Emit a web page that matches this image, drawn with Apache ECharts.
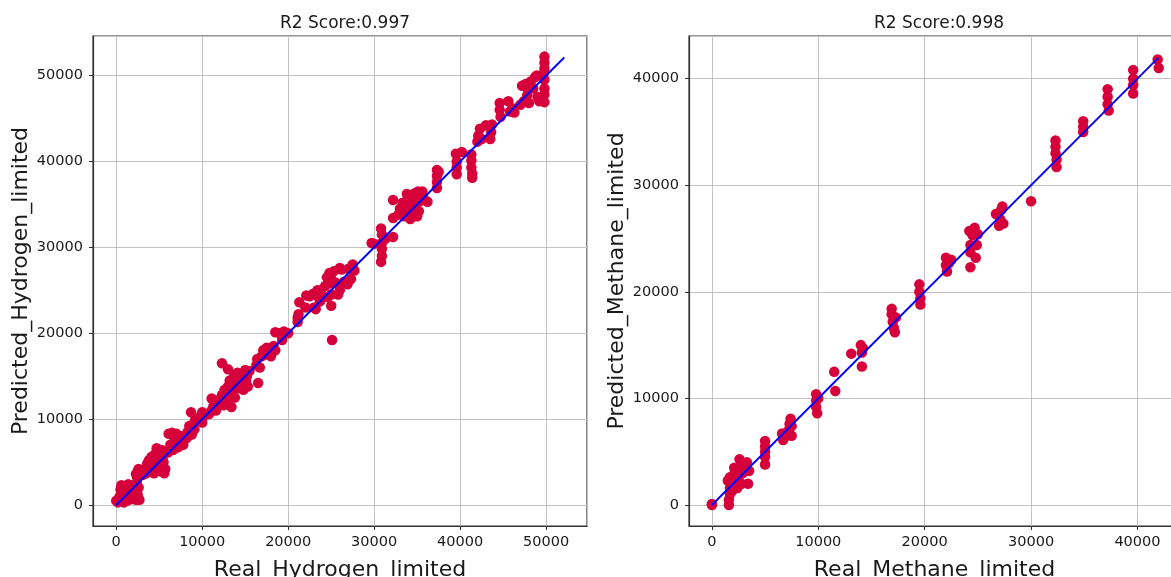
<!DOCTYPE html>
<html>
<head>
<meta charset="utf-8">
<script src="https://cdn.jsdelivr.net/npm/echarts@6/dist/echarts.min.js"></script>
<style>
html,body{margin:0;padding:0;background:#fff;}
#chart{width:1171px;height:577px;}
</style>
</head>
<body>
<div id="chart"></div>
<script>
var titles = ['R2 Score:0.997', 'R2 Score:0.998'];
var xNames = ['Real_Hydrogen_limited', 'Real_Methane_limited'];
var yNames = ['Predicted_Hydrogen_limited', 'Predicted_Methane_limited'];

var hydrogenPoints = [
[0,500],[200,300],[400,1000],[500,1800],[600,2300],[700,700],[800,1500],[900,300],[1000,2200],[1100,1000],
[1200,1800],[1300,500],[1400,2400],[1500,1300],[1600,2000],[1700,700],[1800,2300],[1900,1500],[2000,900],[2100,2200],
[2200,1700],[2300,600],[2400,2500],[2500,1200],[2600,2000],[2700,600],[2400,3300],[2500,3900],[2600,4200],[2300,3600],
[3100,3500],[3300,4200],[3500,3700],[3600,4800],[3800,5200],[3900,4300],[4100,5600],[4200,4800],[4400,3700],[4500,5900],
[4700,6600],[4800,5200],[5000,6200],[5000,4500],[5200,3900],[5300,6400],[5500,5000],[5600,3700],[5700,4200],[5400,5600],
[6000,6100],[6100,8300],[6300,7000],[6500,8400],[6600,6400],[6800,7600],[7000,8300],[7200,6700],[7300,7900],[7500,8000],
[7600,7200],[7800,7000],[8000,8100],[8200,7800],[8300,8500],[8500,9200],[8700,10800],[8800,8200],[9000,9500],[9100,8800],
[9200,10000],[9800,10300],[10000,10800],[10000,9600],[10400,10500],[10800,10600],[11000,10900],[11100,12400],[11300,11500],[11600,11000],
[11800,12200],[12000,11600],[12300,12800],[12300,16500],[12500,11600],[12600,13400],[12800,12200],[13000,13800],[13000,15800],
[13200,14500],[13400,11400],[13500,13000],[13700,15000],[13800,12500],[14000,14200],[14100,15400],[14300,13600],[14500,15200],[14600,14000],
[14800,13400],[15000,15700],[15100,14500],[15300,13800],[15500,15600],[15200,15000],
[16300,16300],[16400,17000],[16500,14200],[16700,16000],[16900,17300],[17100,18000],[17300,17500],[17500,18300],[17800,17500],[18000,17300],
[18300,18500],[18500,18000],[18500,20100],[19000,20000],[19500,20200],[19300,19200],
[20000,20000],[21100,21300],[21200,22200],[21300,23600],[21100,21800],[22100,24400],[22000,23000],[22500,24300],[22900,24600],[23000,23000],
[23200,22800],[23400,25000],[23500,24200],[23700,23700],[23800,25000],
[24300,25500],[24500,26500],[24600,24200],[24800,27000],[24900,25800],[25000,23200],[25000,24500],[25000,26300],[25100,19200],[25300,27200],
[25500,25900],[25800,24500],[26000,25000],[26200,27400],[26500,26000],[26900,25700],[27000,27500],[27300,26300],[27500,28000],[27700,27300],[26000,27600],
[29700,30500],[30000,30400],[30800,32200],[30900,31500],[30900,30500],[30900,29800],[30900,29000],[30800,28300],[31300,31000],
[32200,35500],[32200,33400],[32200,31200],[32800,33800],[33000,34500],[33300,35200],[33500,33600],[33700,34800],[33800,36200],[34000,35000],
[34200,33300],[34400,34300],[34500,35800],[34700,36300],[34900,35000],[35100,36500],[35200,34200],[35400,35400],[35600,36500],[35800,35600],
[36200,35300],[33600,34000],[34300,36000],[35000,33600],
[37300,39000],[37300,38300],[37300,37600],[37300,36900],[37500,38800],
[39500,40900],[39600,40000],[39600,39300],[39600,38500],[41300,40800],[41300,40100],[41300,39300],[41400,38600],[41400,38100],[40200,41100],
[42000,42300],[42100,43000],[42300,43800],[42500,42600],[43000,44200],[43600,43400],[43700,44300],[43500,42600],
[44600,46800],[44600,46000],[44700,45200],[45800,45800],[46100,46200],[46300,45700],[45600,47000],
[47000,46600],[47200,48800],[47400,47000],[47600,49000],[47800,47700],[47900,48300],[48000,46800],[48200,49300],[48500,48500],[48700,49800],
[48900,50000],[49000,47500],[49200,47000],[49400,47300],[49700,50200],[49800,52200],[49800,51500],[49800,50800],[49800,49500],[49800,48500],
[49800,47800],[49800,46900]
];

var methanePoints = [
[0,100],[0,0],
[1600,0],[1600,500],[1700,1000],[1700,1600],[1800,2100],[1700,2600],[1500,2300],[1900,1300],
[2000,2800],[2200,2200],[2300,3300],[2500,2600],[2600,4300],[2700,3600],[2800,2000],[2900,3000],[3000,3800],[3200,3300],
[3300,4000],[3400,2000],[3500,3200],[2400,1600],[2100,3500],
[5000,6000],[5000,5500],[5000,5000],[5000,4500],[5000,3800],
[6600,6700],[6700,6100],[7000,6500],[7200,7000],[7400,8100],[7500,7400],[7500,6500],[7300,7600],
[9800,10400],[9800,9800],[9800,9200],[9900,8600],[10000,10000],
[11500,12500],[11600,10700],
[13100,14200],[14000,15000],[14100,14300],[14100,13000],[14200,14700],
[16900,18400],[16900,17900],[17000,17200],[17100,16600],[17200,16200],[17300,17600],
[19500,20700],[19500,20000],[19600,19400],[19600,18800],
[22000,23200],[22000,22500],[22100,21900],[22500,23000],[22300,22700],
[24200,25700],[24300,24400],[24300,23700],[24300,22300],[24500,25300],[24700,26000],[24900,24400],[25000,25400],[24800,23200],
[26700,27300],[27000,26200],[27200,27700],[27300,28000],[27400,26400],[27100,26800],
[30000,28500],
[32300,34200],[32300,33600],[32300,33000],[32400,32400],[32400,31700],
[34900,36000],[34900,35500],[34900,35000],
[37200,39000],[37200,38300],[37200,37600],[37300,37000],
[39600,40800],[39600,40000],[39600,39400],[39600,38600],
[41900,41800],[42000,41000]
];

var hydrogenFit = [[0,0],[52100,52100]];
var methaneFit = [[0,0],[41950,41950]];

var FONT = 'DejaVu Sans';
var chart = echarts.init(document.getElementById('chart'), null, {renderer:'canvas'});

function xAxisCfg(idx, min, max){
  return {
    type:'value', gridIndex:idx, min:min, max:max,
    minInterval:10000, maxInterval:10000,
    name:xNames[idx], nameLocation:'middle', nameGap:33,
    nameTextStyle:{fontFamily:FONT, fontSize:22, color:'#1a1a1a'},
    axisLine:{show:true, onZero:false, lineStyle:{color:'#333', width:1.2}},
    axisTick:{show:true, length:4, lineStyle:{color:'#333'}},
    axisLabel:{fontFamily:FONT, fontSize:14.5, color:'#1a1a1a', margin:9, showMinLabel:false, showMaxLabel:false,
      formatter:function(v){return String(v);}},
    splitLine:{show:true, lineStyle:{color:'#c2c2c2', width:1}}
  };
}
function yAxisCfg(idx, min, max, gap){
  return {
    type:'value', gridIndex:idx, min:min, max:max,
    minInterval:10000, maxInterval:10000,
    name:yNames[idx], nameLocation:'middle', nameGap:gap, nameRotate:90,
    nameTextStyle:{fontFamily:FONT, fontSize:22, color:'#1a1a1a'},
    axisLine:{show:true, onZero:false, lineStyle:{color:'#333', width:1.2}},
    axisTick:{show:true, length:4, lineStyle:{color:'#333'}},
    axisLabel:{fontFamily:FONT, fontSize:14.5, color:'#1a1a1a', margin:10, showMinLabel:false, showMaxLabel:false,
      formatter:function(v){return String(v);}},
    splitLine:{show:true, lineStyle:{color:'#c2c2c2', width:1}}
  };
}

var option = {
  animation:false,
  backgroundColor:'#fff',
  title:[
    {text:titles[0], left:340, top:10, textAlign:'center', textStyle:{fontFamily:FONT, fontSize:17, fontWeight:'normal', color:'#1a1a1a'}},
    {text:titles[1], left:934, top:10, textAlign:'center', textStyle:{fontFamily:FONT, fontSize:17, fontWeight:'normal', color:'#1a1a1a'}}
  ],
  grid:[
    {left:93, top:36, width:494, height:490, show:true, borderColor:'#333', borderWidth:1.2, containLabel:false, outerBoundsMode:'none'},
    {left:689, top:36, width:491, height:490, show:true, borderColor:'#333', borderWidth:1.2, containLabel:false, outerBoundsMode:'none'}
  ],
  xAxis:[ xAxisCfg(0, -2700, 54750), xAxisCfg(1, -2150, 44000) ],
  yAxis:[ yAxisCfg(0, -2450, 54600, 61), yAxisCfg(1, -1970, 44000, 61) ],
  series:[
    {type:'scatter', xAxisIndex:0, yAxisIndex:0, data:hydrogenPoints, symbolSize:10.5,
      itemStyle:{color:'#d6003a', opacity:1}, z:2},
    {type:'line', xAxisIndex:0, yAxisIndex:0, data:hydrogenFit, showSymbol:false, symbol:'none',
      lineStyle:{color:'#0000ff', width:1.9}, z:3},
    {type:'scatter', xAxisIndex:1, yAxisIndex:1, data:methanePoints, symbolSize:10.5,
      itemStyle:{color:'#d6003a', opacity:1}, z:2},
    {type:'line', xAxisIndex:1, yAxisIndex:1, data:methaneFit, showSymbol:false, symbol:'none',
      lineStyle:{color:'#0000ff', width:1.9}, z:3}
  ]
};
chart.setOption(option);
</script>
</body>
</html>
